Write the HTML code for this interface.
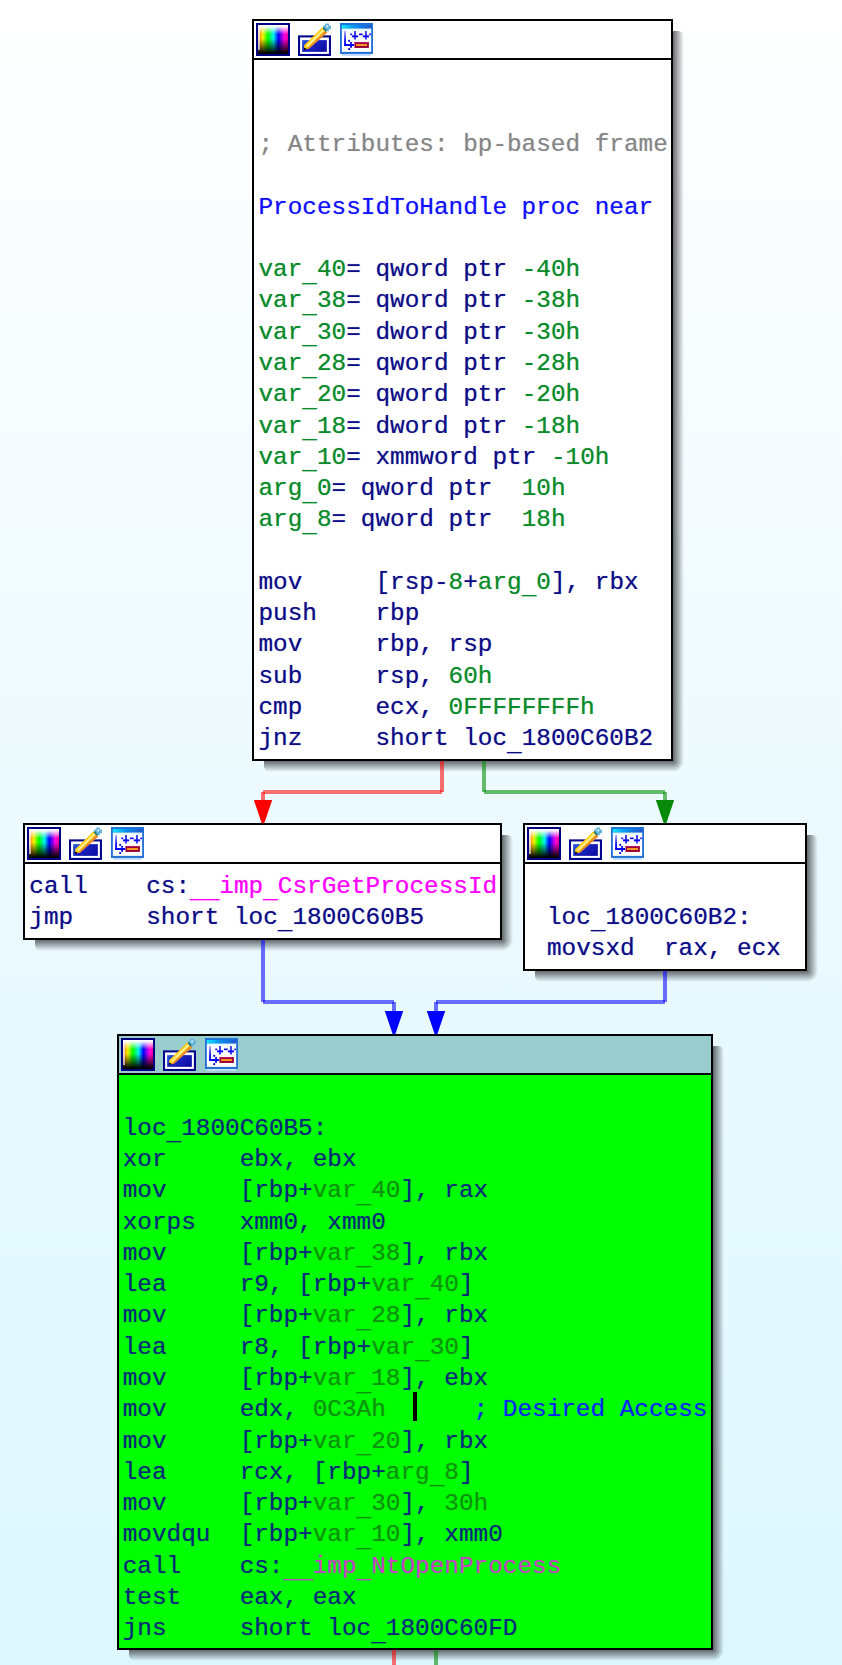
<!DOCTYPE html>
<html><head><meta charset="utf-8"><title>IDA graph</title>
<style>
html,body{margin:0;padding:0}
body{width:842px;height:1665px;overflow:hidden;position:relative;
background:linear-gradient(to bottom,#ffffff 0,#fdfeff 100px,#ecfaff 820px,#ddf7ff 1665px);
font-family:"Liberation Mono",monospace}
.s{position:absolute}
.n{position:absolute;border:2px solid #000;overflow:hidden}
.tb{position:absolute;left:0;top:0;right:0;height:37px;border-bottom:2px solid #000}
.ic{position:absolute;display:block}
.u{position:relative;top:5.5px}
.t{position:absolute;white-space:pre;font-size:24.37px;line-height:31px;height:31px;letter-spacing:0;text-shadow:0 0 1px color-mix(in srgb,currentColor 50%,transparent)}
</style></head>
<body>
<div class="s" style="left:673px;top:31px;width:11px;height:730px;border-top-right-radius:6px;background:linear-gradient(to right,rgba(30,32,34,0.66),rgba(30,32,34,0))"></div>
<div class="s" style="left:264px;top:761px;width:409px;height:11px;border-bottom-left-radius:6px;background:linear-gradient(to bottom,rgba(30,32,34,0.66),rgba(30,32,34,0))"></div>
<div class="s" style="left:673px;top:761px;width:11px;height:11px;background:radial-gradient(circle at 0 0,rgba(30,32,34,0.66) 0,rgba(30,32,34,0) 11px)"></div>
<div class="n" style="left:252px;top:19px;width:417px;height:738px;background:#ffffff">
<div class="tb" style="background:#ffffff"></div>
<svg class="ic" style="left:2px;top:2px" width="34" height="33" viewBox="0 0 34 33">
<defs>
<linearGradient id="hue" x1="0" x2="1" y1="0" y2="0">
<stop offset="0" stop-color="#ffb070"/><stop offset="0.06" stop-color="#ff9a10"/><stop offset="0.16" stop-color="#f2f200"/>
<stop offset="0.33" stop-color="#00ff00"/><stop offset="0.52" stop-color="#00f0f0"/>
<stop offset="0.68" stop-color="#0000ff"/><stop offset="0.88" stop-color="#ff00e0"/><stop offset="1" stop-color="#f000a0"/>
</linearGradient>
<linearGradient id="vw" x1="0" x2="0" y1="0" y2="1">
<stop offset="0" stop-color="#fff" stop-opacity="1"/><stop offset="0.06" stop-color="#fff" stop-opacity="0.92"/>
<stop offset="0.32" stop-color="#fff" stop-opacity="0"/>
<stop offset="0.47" stop-color="#000" stop-opacity="0"/><stop offset="0.95" stop-color="#000" stop-opacity="0.95"/>
<stop offset="1" stop-color="#000" stop-opacity="1"/>
</linearGradient>
</defs>
<rect x="0" y="0" width="34" height="33" fill="#000080"/>
<rect x="2" y="2" width="30" height="29" fill="url(#hue)"/>
<rect x="2" y="2" width="30" height="29" fill="url(#vw)"/>
<rect x="2" y="2" width="2" height="25" fill="#fff" fill-opacity="0.6"/>
</svg>
<svg class="ic" style="left:44px;top:2px" width="34" height="33" viewBox="0 0 16.5 16">
<defs>
<linearGradient id="bl" x1="0" x2="1" y1="0" y2="0.6">
<stop offset="0" stop-color="#2a5ce0"/><stop offset="0.5" stop-color="#1a22c0"/><stop offset="1" stop-color="#1010a8"/>
</linearGradient>
</defs>
<rect x="0" y="6" width="16" height="10" fill="#00008c"/>
<rect x="1" y="7" width="14" height="8" fill="#fff"/>
<rect x="2" y="8.3" width="12" height="5.7" fill="url(#bl)"/>
<polygon points="3,12.8 3.2,10.8 11.9,2.2 14.3,4.6 5.4,12.5" fill="#e88a28"/>
<polygon points="3,12.6 3.1,10.7 11.8,2.2 13.3,3.7 4.5,12.2" fill="#ffd21c"/>
<polygon points="4.0,11.0 12.3,2.9 12.9,3.5 4.6,11.6" fill="#fff6b8" fill-opacity="0.85"/>
<rect x="2.9" y="12.1" width="0.9" height="0.9" fill="#000"/>
<polygon points="12.2,2.4 13.2,1.4 14,4.2 14.2,4.4" fill="#107060"/>
<path d="M13.2 0.2h1.8v1h1v1.8h-1v1h-1.8v-1h-1v-1.8h1z" fill="#62b4dc"/>
<rect x="13.7" y="1.2" width="0.9" height="0.9" fill="#e8f8ff"/>
<polygon points="12.0,2.5 12.6,1.9 13.1,2.9 13.9,3.4 13.4,4.1 12.8,3.6" fill="#106858" fill-opacity="0.9"/>
</svg>
<svg class="ic" style="left:86px;top:2px" width="33" height="33" viewBox="0 0 16 16">
<defs>
<linearGradient id="tb" x1="0" x2="1" y1="0" y2="0">
<stop offset="0" stop-color="#10e8ff"/><stop offset="0.45" stop-color="#0a90f0"/><stop offset="1" stop-color="#2058d0"/>
</linearGradient>
<linearGradient id="vl" x1="0" x2="0" y1="0" y2="1">
<stop offset="0" stop-color="#b0a8ff"/><stop offset="0.6" stop-color="#1818f0"/><stop offset="1" stop-color="#0000ff"/>
</linearGradient>
</defs>
<rect x="1" y="15" width="14" height="1" fill="#c4dcff"/>
<rect x="0" y="0" width="16" height="15" fill="#2470d4"/>
<rect x="0.9" y="0.9" width="14.2" height="1.8" fill="url(#tb)"/>
<rect x="0" y="0" width="16" height="0.9" fill="#1c74d8"/>
<rect x="0.9" y="2.8" width="14.2" height="11.2" fill="#fff"/>
<rect x="0.9" y="2.8" width="14.2" height="1" fill="#e4fbff"/>
<rect x="2" y="3.9" width="0.9" height="7.2" fill="url(#vl)"/>
<rect x="2" y="10.2" width="4.8" height="0.95" fill="#0000ff"/>
<g fill="#0000e0">
<rect x="4" y="8.2" width="0.9" height="0.9"/><rect x="4.9" y="9.2" width="0.9" height="0.9"/>
<rect x="5.8" y="10.2" width="0.9" height="0.9"/><rect x="4.9" y="11.1" width="0.9" height="0.9"/>
<rect x="4" y="12.2" width="0.9" height="0.9"/>
</g>
<g fill="#0808f0">
<rect x="6.8" y="3.9" width="0.95" height="4.1" fill="#3a3af4"/>
<rect x="5.8" y="6.0" width="3" height="0.95"/>
<rect x="5" y="5.1" width="0.9" height="0.8"/>
<rect x="9.2" y="5.1" width="1.8" height="0.8"/>
<rect x="12.1" y="3.9" width="0.95" height="4.1" fill="#3a3af4"/>
<rect x="11.1" y="6.0" width="3" height="0.95"/>
<rect x="14.2" y="5.1" width="0.8" height="0.8"/>
</g>
<rect x="7" y="9.2" width="7" height="2.9" fill="#980038"/>
<rect x="7" y="9.2" width="7" height="0.5" fill="#c01868"/>
<rect x="7.8" y="10.2" width="5.3" height="0.95" fill="#ff9820"/>
</svg>
</div>
<div class="t" style="left:258.50px;top:129.14px"><span style="color:#868686">; Attributes: bp-based frame</span></div>
<div class="t" style="left:258.50px;top:191.68px"><span style="color:#1010ff">ProcessIdToHandle proc near</span></div>
<div class="t" style="left:258.50px;top:254.22px"><span style="color:#0a8a2a">var<span class="u">_</span>40</span><span style="color:#0c0c86">= qword ptr </span><span style="color:#0a8a2a">-40h</span></div>
<div class="t" style="left:258.50px;top:285.49px"><span style="color:#0a8a2a">var<span class="u">_</span>38</span><span style="color:#0c0c86">= qword ptr </span><span style="color:#0a8a2a">-38h</span></div>
<div class="t" style="left:258.50px;top:316.76px"><span style="color:#0a8a2a">var<span class="u">_</span>30</span><span style="color:#0c0c86">= dword ptr </span><span style="color:#0a8a2a">-30h</span></div>
<div class="t" style="left:258.50px;top:348.03px"><span style="color:#0a8a2a">var<span class="u">_</span>28</span><span style="color:#0c0c86">= qword ptr </span><span style="color:#0a8a2a">-28h</span></div>
<div class="t" style="left:258.50px;top:379.30px"><span style="color:#0a8a2a">var<span class="u">_</span>20</span><span style="color:#0c0c86">= qword ptr </span><span style="color:#0a8a2a">-20h</span></div>
<div class="t" style="left:258.50px;top:410.57px"><span style="color:#0a8a2a">var<span class="u">_</span>18</span><span style="color:#0c0c86">= dword ptr </span><span style="color:#0a8a2a">-18h</span></div>
<div class="t" style="left:258.50px;top:441.84px"><span style="color:#0a8a2a">var<span class="u">_</span>10</span><span style="color:#0c0c86">= xmmword ptr </span><span style="color:#0a8a2a">-10h</span></div>
<div class="t" style="left:258.50px;top:473.11px"><span style="color:#0a8a2a">arg<span class="u">_</span>0</span><span style="color:#0c0c86">= qword ptr </span><span style="color:#0a8a2a"> 10h</span></div>
<div class="t" style="left:258.50px;top:504.38px"><span style="color:#0a8a2a">arg<span class="u">_</span>8</span><span style="color:#0c0c86">= qword ptr </span><span style="color:#0a8a2a"> 18h</span></div>
<div class="t" style="left:258.50px;top:566.92px"><span style="color:#0c0c86">mov     [rsp-</span><span style="color:#0a8a2a">8</span><span style="color:#0c0c86">+</span><span style="color:#0a8a2a">arg<span class="u">_</span>0</span><span style="color:#0c0c86">], rbx</span></div>
<div class="t" style="left:258.50px;top:598.19px"><span style="color:#0c0c86">push    rbp</span></div>
<div class="t" style="left:258.50px;top:629.46px"><span style="color:#0c0c86">mov     rbp, rsp</span></div>
<div class="t" style="left:258.50px;top:660.73px"><span style="color:#0c0c86">sub     rsp, </span><span style="color:#0a8a2a">60h</span></div>
<div class="t" style="left:258.50px;top:692.00px"><span style="color:#0c0c86">cmp     ecx, </span><span style="color:#0a8a2a">0FFFFFFFFh</span></div>
<div class="t" style="left:258.50px;top:723.27px"><span style="color:#0c0c86">jnz     short loc<span class="u">_</span>1800C60B2</span></div>

<div class="s" style="left:502px;top:835px;width:11px;height:105px;border-top-right-radius:6px;background:linear-gradient(to right,rgba(30,32,34,0.66),rgba(30,32,34,0))"></div>
<div class="s" style="left:35px;top:940px;width:467px;height:11px;border-bottom-left-radius:6px;background:linear-gradient(to bottom,rgba(30,32,34,0.66),rgba(30,32,34,0))"></div>
<div class="s" style="left:502px;top:940px;width:11px;height:11px;background:radial-gradient(circle at 0 0,rgba(30,32,34,0.66) 0,rgba(30,32,34,0) 11px)"></div>
<div class="n" style="left:23px;top:823px;width:475px;height:113px;background:#ffffff">
<div class="tb" style="background:#ffffff"></div>
<svg class="ic" style="left:2px;top:2px" width="34" height="33" viewBox="0 0 34 33">
<defs>
<linearGradient id="hue" x1="0" x2="1" y1="0" y2="0">
<stop offset="0" stop-color="#ffb070"/><stop offset="0.06" stop-color="#ff9a10"/><stop offset="0.16" stop-color="#f2f200"/>
<stop offset="0.33" stop-color="#00ff00"/><stop offset="0.52" stop-color="#00f0f0"/>
<stop offset="0.68" stop-color="#0000ff"/><stop offset="0.88" stop-color="#ff00e0"/><stop offset="1" stop-color="#f000a0"/>
</linearGradient>
<linearGradient id="vw" x1="0" x2="0" y1="0" y2="1">
<stop offset="0" stop-color="#fff" stop-opacity="1"/><stop offset="0.06" stop-color="#fff" stop-opacity="0.92"/>
<stop offset="0.32" stop-color="#fff" stop-opacity="0"/>
<stop offset="0.47" stop-color="#000" stop-opacity="0"/><stop offset="0.95" stop-color="#000" stop-opacity="0.95"/>
<stop offset="1" stop-color="#000" stop-opacity="1"/>
</linearGradient>
</defs>
<rect x="0" y="0" width="34" height="33" fill="#000080"/>
<rect x="2" y="2" width="30" height="29" fill="url(#hue)"/>
<rect x="2" y="2" width="30" height="29" fill="url(#vw)"/>
<rect x="2" y="2" width="2" height="25" fill="#fff" fill-opacity="0.6"/>
</svg>
<svg class="ic" style="left:44px;top:2px" width="34" height="33" viewBox="0 0 16.5 16">
<defs>
<linearGradient id="bl" x1="0" x2="1" y1="0" y2="0.6">
<stop offset="0" stop-color="#2a5ce0"/><stop offset="0.5" stop-color="#1a22c0"/><stop offset="1" stop-color="#1010a8"/>
</linearGradient>
</defs>
<rect x="0" y="6" width="16" height="10" fill="#00008c"/>
<rect x="1" y="7" width="14" height="8" fill="#fff"/>
<rect x="2" y="8.3" width="12" height="5.7" fill="url(#bl)"/>
<polygon points="3,12.8 3.2,10.8 11.9,2.2 14.3,4.6 5.4,12.5" fill="#e88a28"/>
<polygon points="3,12.6 3.1,10.7 11.8,2.2 13.3,3.7 4.5,12.2" fill="#ffd21c"/>
<polygon points="4.0,11.0 12.3,2.9 12.9,3.5 4.6,11.6" fill="#fff6b8" fill-opacity="0.85"/>
<rect x="2.9" y="12.1" width="0.9" height="0.9" fill="#000"/>
<polygon points="12.2,2.4 13.2,1.4 14,4.2 14.2,4.4" fill="#107060"/>
<path d="M13.2 0.2h1.8v1h1v1.8h-1v1h-1.8v-1h-1v-1.8h1z" fill="#62b4dc"/>
<rect x="13.7" y="1.2" width="0.9" height="0.9" fill="#e8f8ff"/>
<polygon points="12.0,2.5 12.6,1.9 13.1,2.9 13.9,3.4 13.4,4.1 12.8,3.6" fill="#106858" fill-opacity="0.9"/>
</svg>
<svg class="ic" style="left:86px;top:2px" width="33" height="33" viewBox="0 0 16 16">
<defs>
<linearGradient id="tb" x1="0" x2="1" y1="0" y2="0">
<stop offset="0" stop-color="#10e8ff"/><stop offset="0.45" stop-color="#0a90f0"/><stop offset="1" stop-color="#2058d0"/>
</linearGradient>
<linearGradient id="vl" x1="0" x2="0" y1="0" y2="1">
<stop offset="0" stop-color="#b0a8ff"/><stop offset="0.6" stop-color="#1818f0"/><stop offset="1" stop-color="#0000ff"/>
</linearGradient>
</defs>
<rect x="1" y="15" width="14" height="1" fill="#c4dcff"/>
<rect x="0" y="0" width="16" height="15" fill="#2470d4"/>
<rect x="0.9" y="0.9" width="14.2" height="1.8" fill="url(#tb)"/>
<rect x="0" y="0" width="16" height="0.9" fill="#1c74d8"/>
<rect x="0.9" y="2.8" width="14.2" height="11.2" fill="#fff"/>
<rect x="0.9" y="2.8" width="14.2" height="1" fill="#e4fbff"/>
<rect x="2" y="3.9" width="0.9" height="7.2" fill="url(#vl)"/>
<rect x="2" y="10.2" width="4.8" height="0.95" fill="#0000ff"/>
<g fill="#0000e0">
<rect x="4" y="8.2" width="0.9" height="0.9"/><rect x="4.9" y="9.2" width="0.9" height="0.9"/>
<rect x="5.8" y="10.2" width="0.9" height="0.9"/><rect x="4.9" y="11.1" width="0.9" height="0.9"/>
<rect x="4" y="12.2" width="0.9" height="0.9"/>
</g>
<g fill="#0808f0">
<rect x="6.8" y="3.9" width="0.95" height="4.1" fill="#3a3af4"/>
<rect x="5.8" y="6.0" width="3" height="0.95"/>
<rect x="5" y="5.1" width="0.9" height="0.8"/>
<rect x="9.2" y="5.1" width="1.8" height="0.8"/>
<rect x="12.1" y="3.9" width="0.95" height="4.1" fill="#3a3af4"/>
<rect x="11.1" y="6.0" width="3" height="0.95"/>
<rect x="14.2" y="5.1" width="0.8" height="0.8"/>
</g>
<rect x="7" y="9.2" width="7" height="2.9" fill="#980038"/>
<rect x="7" y="9.2" width="7" height="0.5" fill="#c01868"/>
<rect x="7.8" y="10.2" width="5.3" height="0.95" fill="#ff9820"/>
</svg>
</div>
<div class="t" style="left:29.30px;top:870.60px"><span style="color:#0c0c86">call    cs:</span><span style="color:#ff00ff"><span class="u">_</span><span class="u">_</span>imp<span class="u">_</span>CsrGetProcessId</span></div>
<div class="t" style="left:29.30px;top:901.87px"><span style="color:#0c0c86">jmp     short loc<span class="u">_</span>1800C60B5</span></div>

<div class="s" style="left:807px;top:835px;width:11px;height:136px;border-top-right-radius:6px;background:linear-gradient(to right,rgba(30,32,34,0.66),rgba(30,32,34,0))"></div>
<div class="s" style="left:535px;top:971px;width:272px;height:11px;border-bottom-left-radius:6px;background:linear-gradient(to bottom,rgba(30,32,34,0.66),rgba(30,32,34,0))"></div>
<div class="s" style="left:807px;top:971px;width:11px;height:11px;background:radial-gradient(circle at 0 0,rgba(30,32,34,0.66) 0,rgba(30,32,34,0) 11px)"></div>
<div class="n" style="left:523px;top:823px;width:280px;height:144px;background:#ffffff">
<div class="tb" style="background:#ffffff"></div>
<svg class="ic" style="left:2px;top:2px" width="34" height="33" viewBox="0 0 34 33">
<defs>
<linearGradient id="hue" x1="0" x2="1" y1="0" y2="0">
<stop offset="0" stop-color="#ffb070"/><stop offset="0.06" stop-color="#ff9a10"/><stop offset="0.16" stop-color="#f2f200"/>
<stop offset="0.33" stop-color="#00ff00"/><stop offset="0.52" stop-color="#00f0f0"/>
<stop offset="0.68" stop-color="#0000ff"/><stop offset="0.88" stop-color="#ff00e0"/><stop offset="1" stop-color="#f000a0"/>
</linearGradient>
<linearGradient id="vw" x1="0" x2="0" y1="0" y2="1">
<stop offset="0" stop-color="#fff" stop-opacity="1"/><stop offset="0.06" stop-color="#fff" stop-opacity="0.92"/>
<stop offset="0.32" stop-color="#fff" stop-opacity="0"/>
<stop offset="0.47" stop-color="#000" stop-opacity="0"/><stop offset="0.95" stop-color="#000" stop-opacity="0.95"/>
<stop offset="1" stop-color="#000" stop-opacity="1"/>
</linearGradient>
</defs>
<rect x="0" y="0" width="34" height="33" fill="#000080"/>
<rect x="2" y="2" width="30" height="29" fill="url(#hue)"/>
<rect x="2" y="2" width="30" height="29" fill="url(#vw)"/>
<rect x="2" y="2" width="2" height="25" fill="#fff" fill-opacity="0.6"/>
</svg>
<svg class="ic" style="left:44px;top:2px" width="34" height="33" viewBox="0 0 16.5 16">
<defs>
<linearGradient id="bl" x1="0" x2="1" y1="0" y2="0.6">
<stop offset="0" stop-color="#2a5ce0"/><stop offset="0.5" stop-color="#1a22c0"/><stop offset="1" stop-color="#1010a8"/>
</linearGradient>
</defs>
<rect x="0" y="6" width="16" height="10" fill="#00008c"/>
<rect x="1" y="7" width="14" height="8" fill="#fff"/>
<rect x="2" y="8.3" width="12" height="5.7" fill="url(#bl)"/>
<polygon points="3,12.8 3.2,10.8 11.9,2.2 14.3,4.6 5.4,12.5" fill="#e88a28"/>
<polygon points="3,12.6 3.1,10.7 11.8,2.2 13.3,3.7 4.5,12.2" fill="#ffd21c"/>
<polygon points="4.0,11.0 12.3,2.9 12.9,3.5 4.6,11.6" fill="#fff6b8" fill-opacity="0.85"/>
<rect x="2.9" y="12.1" width="0.9" height="0.9" fill="#000"/>
<polygon points="12.2,2.4 13.2,1.4 14,4.2 14.2,4.4" fill="#107060"/>
<path d="M13.2 0.2h1.8v1h1v1.8h-1v1h-1.8v-1h-1v-1.8h1z" fill="#62b4dc"/>
<rect x="13.7" y="1.2" width="0.9" height="0.9" fill="#e8f8ff"/>
<polygon points="12.0,2.5 12.6,1.9 13.1,2.9 13.9,3.4 13.4,4.1 12.8,3.6" fill="#106858" fill-opacity="0.9"/>
</svg>
<svg class="ic" style="left:86px;top:2px" width="33" height="33" viewBox="0 0 16 16">
<defs>
<linearGradient id="tb" x1="0" x2="1" y1="0" y2="0">
<stop offset="0" stop-color="#10e8ff"/><stop offset="0.45" stop-color="#0a90f0"/><stop offset="1" stop-color="#2058d0"/>
</linearGradient>
<linearGradient id="vl" x1="0" x2="0" y1="0" y2="1">
<stop offset="0" stop-color="#b0a8ff"/><stop offset="0.6" stop-color="#1818f0"/><stop offset="1" stop-color="#0000ff"/>
</linearGradient>
</defs>
<rect x="1" y="15" width="14" height="1" fill="#c4dcff"/>
<rect x="0" y="0" width="16" height="15" fill="#2470d4"/>
<rect x="0.9" y="0.9" width="14.2" height="1.8" fill="url(#tb)"/>
<rect x="0" y="0" width="16" height="0.9" fill="#1c74d8"/>
<rect x="0.9" y="2.8" width="14.2" height="11.2" fill="#fff"/>
<rect x="0.9" y="2.8" width="14.2" height="1" fill="#e4fbff"/>
<rect x="2" y="3.9" width="0.9" height="7.2" fill="url(#vl)"/>
<rect x="2" y="10.2" width="4.8" height="0.95" fill="#0000ff"/>
<g fill="#0000e0">
<rect x="4" y="8.2" width="0.9" height="0.9"/><rect x="4.9" y="9.2" width="0.9" height="0.9"/>
<rect x="5.8" y="10.2" width="0.9" height="0.9"/><rect x="4.9" y="11.1" width="0.9" height="0.9"/>
<rect x="4" y="12.2" width="0.9" height="0.9"/>
</g>
<g fill="#0808f0">
<rect x="6.8" y="3.9" width="0.95" height="4.1" fill="#3a3af4"/>
<rect x="5.8" y="6.0" width="3" height="0.95"/>
<rect x="5" y="5.1" width="0.9" height="0.8"/>
<rect x="9.2" y="5.1" width="1.8" height="0.8"/>
<rect x="12.1" y="3.9" width="0.95" height="4.1" fill="#3a3af4"/>
<rect x="11.1" y="6.0" width="3" height="0.95"/>
<rect x="14.2" y="5.1" width="0.8" height="0.8"/>
</g>
<rect x="7" y="9.2" width="7" height="2.9" fill="#980038"/>
<rect x="7" y="9.2" width="7" height="0.5" fill="#c01868"/>
<rect x="7.8" y="10.2" width="5.3" height="0.95" fill="#ff9820"/>
</svg>
</div>
<div class="t" style="left:547.00px;top:901.87px"><span style="color:#0c0c86">loc<span class="u">_</span>1800C60B2:</span></div>
<div class="t" style="left:547.00px;top:933.14px"><span style="color:#0c0c86">movsxd  rax, ecx</span></div>

<div class="s" style="left:713px;top:1046px;width:11px;height:604px;border-top-right-radius:6px;background:linear-gradient(to right,rgba(30,32,34,0.66),rgba(30,32,34,0))"></div>
<div class="s" style="left:129px;top:1650px;width:584px;height:11px;border-bottom-left-radius:6px;background:linear-gradient(to bottom,rgba(30,32,34,0.66),rgba(30,32,34,0))"></div>
<div class="s" style="left:713px;top:1650px;width:11px;height:11px;background:radial-gradient(circle at 0 0,rgba(30,32,34,0.66) 0,rgba(30,32,34,0) 11px)"></div>
<div class="n" style="left:117px;top:1034px;width:592px;height:612px;background:#00ff00">
<div class="tb" style="background:#99cccc"></div>
<svg class="ic" style="left:2px;top:2px" width="34" height="33" viewBox="0 0 34 33">
<defs>
<linearGradient id="hue" x1="0" x2="1" y1="0" y2="0">
<stop offset="0" stop-color="#ffb070"/><stop offset="0.06" stop-color="#ff9a10"/><stop offset="0.16" stop-color="#f2f200"/>
<stop offset="0.33" stop-color="#00ff00"/><stop offset="0.52" stop-color="#00f0f0"/>
<stop offset="0.68" stop-color="#0000ff"/><stop offset="0.88" stop-color="#ff00e0"/><stop offset="1" stop-color="#f000a0"/>
</linearGradient>
<linearGradient id="vw" x1="0" x2="0" y1="0" y2="1">
<stop offset="0" stop-color="#fff" stop-opacity="1"/><stop offset="0.06" stop-color="#fff" stop-opacity="0.92"/>
<stop offset="0.32" stop-color="#fff" stop-opacity="0"/>
<stop offset="0.47" stop-color="#000" stop-opacity="0"/><stop offset="0.95" stop-color="#000" stop-opacity="0.95"/>
<stop offset="1" stop-color="#000" stop-opacity="1"/>
</linearGradient>
</defs>
<rect x="0" y="0" width="34" height="33" fill="#000080"/>
<rect x="2" y="2" width="30" height="29" fill="url(#hue)"/>
<rect x="2" y="2" width="30" height="29" fill="url(#vw)"/>
<rect x="2" y="2" width="2" height="25" fill="#fff" fill-opacity="0.6"/>
</svg>
<svg class="ic" style="left:44px;top:2px" width="34" height="33" viewBox="0 0 16.5 16">
<defs>
<linearGradient id="bl" x1="0" x2="1" y1="0" y2="0.6">
<stop offset="0" stop-color="#2a5ce0"/><stop offset="0.5" stop-color="#1a22c0"/><stop offset="1" stop-color="#1010a8"/>
</linearGradient>
</defs>
<rect x="0" y="6" width="16" height="10" fill="#00008c"/>
<rect x="1" y="7" width="14" height="8" fill="#fff"/>
<rect x="2" y="8.3" width="12" height="5.7" fill="url(#bl)"/>
<polygon points="3,12.8 3.2,10.8 11.9,2.2 14.3,4.6 5.4,12.5" fill="#e88a28"/>
<polygon points="3,12.6 3.1,10.7 11.8,2.2 13.3,3.7 4.5,12.2" fill="#ffd21c"/>
<polygon points="4.0,11.0 12.3,2.9 12.9,3.5 4.6,11.6" fill="#fff6b8" fill-opacity="0.85"/>
<rect x="2.9" y="12.1" width="0.9" height="0.9" fill="#000"/>
<polygon points="12.2,2.4 13.2,1.4 14,4.2 14.2,4.4" fill="#107060"/>
<path d="M13.2 0.2h1.8v1h1v1.8h-1v1h-1.8v-1h-1v-1.8h1z" fill="#62b4dc"/>
<rect x="13.7" y="1.2" width="0.9" height="0.9" fill="#e8f8ff"/>
<polygon points="12.0,2.5 12.6,1.9 13.1,2.9 13.9,3.4 13.4,4.1 12.8,3.6" fill="#106858" fill-opacity="0.9"/>
</svg>
<svg class="ic" style="left:86px;top:2px" width="33" height="33" viewBox="0 0 16 16">
<defs>
<linearGradient id="tb" x1="0" x2="1" y1="0" y2="0">
<stop offset="0" stop-color="#10e8ff"/><stop offset="0.45" stop-color="#0a90f0"/><stop offset="1" stop-color="#2058d0"/>
</linearGradient>
<linearGradient id="vl" x1="0" x2="0" y1="0" y2="1">
<stop offset="0" stop-color="#b0a8ff"/><stop offset="0.6" stop-color="#1818f0"/><stop offset="1" stop-color="#0000ff"/>
</linearGradient>
</defs>
<rect x="1" y="15" width="14" height="1" fill="#c4dcff"/>
<rect x="0" y="0" width="16" height="15" fill="#2470d4"/>
<rect x="0.9" y="0.9" width="14.2" height="1.8" fill="url(#tb)"/>
<rect x="0" y="0" width="16" height="0.9" fill="#1c74d8"/>
<rect x="0.9" y="2.8" width="14.2" height="11.2" fill="#fff"/>
<rect x="0.9" y="2.8" width="14.2" height="1" fill="#e4fbff"/>
<rect x="2" y="3.9" width="0.9" height="7.2" fill="url(#vl)"/>
<rect x="2" y="10.2" width="4.8" height="0.95" fill="#0000ff"/>
<g fill="#0000e0">
<rect x="4" y="8.2" width="0.9" height="0.9"/><rect x="4.9" y="9.2" width="0.9" height="0.9"/>
<rect x="5.8" y="10.2" width="0.9" height="0.9"/><rect x="4.9" y="11.1" width="0.9" height="0.9"/>
<rect x="4" y="12.2" width="0.9" height="0.9"/>
</g>
<g fill="#0808f0">
<rect x="6.8" y="3.9" width="0.95" height="4.1" fill="#3a3af4"/>
<rect x="5.8" y="6.0" width="3" height="0.95"/>
<rect x="5" y="5.1" width="0.9" height="0.8"/>
<rect x="9.2" y="5.1" width="1.8" height="0.8"/>
<rect x="12.1" y="3.9" width="0.95" height="4.1" fill="#3a3af4"/>
<rect x="11.1" y="6.0" width="3" height="0.95"/>
<rect x="14.2" y="5.1" width="0.8" height="0.8"/>
</g>
<rect x="7" y="9.2" width="7" height="2.9" fill="#980038"/>
<rect x="7" y="9.2" width="7" height="0.5" fill="#c01868"/>
<rect x="7.8" y="10.2" width="5.3" height="0.95" fill="#ff9820"/>
</svg>
</div>
<div class="t" style="left:122.70px;top:1112.87px"><span style="color:#002c78">loc<span class="u">_</span>1800C60B5:</span></div>
<div class="t" style="left:122.70px;top:1144.14px"><span style="color:#002c78">xor     ebx, ebx</span></div>
<div class="t" style="left:122.70px;top:1175.41px"><span style="color:#002c78">mov     [rbp+</span><span style="color:#0d930d">var<span class="u">_</span>40</span><span style="color:#002c78">], rax</span></div>
<div class="t" style="left:122.70px;top:1206.68px"><span style="color:#002c78">xorps   xmm0, xmm0</span></div>
<div class="t" style="left:122.70px;top:1237.95px"><span style="color:#002c78">mov     [rbp+</span><span style="color:#0d930d">var<span class="u">_</span>38</span><span style="color:#002c78">], rbx</span></div>
<div class="t" style="left:122.70px;top:1269.22px"><span style="color:#002c78">lea     r9, [rbp+</span><span style="color:#0d930d">var<span class="u">_</span>40</span><span style="color:#002c78">]</span></div>
<div class="t" style="left:122.70px;top:1300.49px"><span style="color:#002c78">mov     [rbp+</span><span style="color:#0d930d">var<span class="u">_</span>28</span><span style="color:#002c78">], rbx</span></div>
<div class="t" style="left:122.70px;top:1331.76px"><span style="color:#002c78">lea     r8, [rbp+</span><span style="color:#0d930d">var<span class="u">_</span>30</span><span style="color:#002c78">]</span></div>
<div class="t" style="left:122.70px;top:1363.03px"><span style="color:#002c78">mov     [rbp+</span><span style="color:#0d930d">var<span class="u">_</span>18</span><span style="color:#002c78">], ebx</span></div>
<div class="t" style="left:122.70px;top:1394.30px"><span style="color:#002c78">mov     edx, </span><span style="color:#0d930d">0C3Ah</span><span style="color:#002c78">      </span><span style="color:#0028f0">; Desired Access</span></div>
<div class="t" style="left:122.70px;top:1425.57px"><span style="color:#002c78">mov     [rbp+</span><span style="color:#0d930d">var<span class="u">_</span>20</span><span style="color:#002c78">], rbx</span></div>
<div class="t" style="left:122.70px;top:1456.84px"><span style="color:#002c78">lea     rcx, [rbp+</span><span style="color:#0d930d">arg<span class="u">_</span>8</span><span style="color:#002c78">]</span></div>
<div class="t" style="left:122.70px;top:1488.11px"><span style="color:#002c78">mov     [rbp+</span><span style="color:#0d930d">var<span class="u">_</span>30</span><span style="color:#002c78">], </span><span style="color:#0d930d">30h</span></div>
<div class="t" style="left:122.70px;top:1519.38px"><span style="color:#002c78">movdqu  [rbp+</span><span style="color:#0d930d">var<span class="u">_</span>10</span><span style="color:#002c78">], xmm0</span></div>
<div class="t" style="left:122.70px;top:1550.65px"><span style="color:#002c78">call    cs:</span><span style="color:#c244c2"><span class="u">_</span><span class="u">_</span>imp<span class="u">_</span>NtOpenProcess</span></div>
<div class="t" style="left:122.70px;top:1581.92px"><span style="color:#002c78">test    eax, eax</span></div>
<div class="t" style="left:122.70px;top:1613.19px"><span style="color:#002c78">jns     short loc<span class="u">_</span>1800C60FD</span></div>
<div class="s" style="left:412.5px;top:1392px;width:4.5px;height:29px;background:#000"></div>
<div class="s" style="left:440px;top:761px;width:4px;height:31px;background:rgba(255,0,0,0.56)"></div>
<div class="s" style="left:262.5px;top:790px;width:179.5px;height:4px;background:rgba(255,0,0,0.56)"></div>
<div class="s" style="left:260.5px;top:792px;width:4px;height:8.200000000000045px;background:rgba(255,0,0,0.56)"></div>
<svg class="s" style="left:250.5px;top:799.2px" width="24" height="25.199999999999932" viewBox="250.5 799.2 24 25.199999999999932"><polygon points="253.3,800.2 271.7,800.2 263.8,823.4 261.2,823.4" fill="#ff0000"/></svg>
<div class="s" style="left:482px;top:761px;width:4px;height:31px;background:rgba(0,140,0,0.58)"></div>
<div class="s" style="left:484px;top:790px;width:181px;height:4px;background:rgba(0,140,0,0.58)"></div>
<div class="s" style="left:663px;top:792px;width:4px;height:8.200000000000045px;background:rgba(0,140,0,0.58)"></div>
<svg class="s" style="left:652.8px;top:799.2px" width="24" height="25.199999999999932" viewBox="652.8 799.2 24 25.199999999999932"><polygon points="655.5999999999999,800.2 674.0,800.2 666.0999999999999,823.4 663.5,823.4" fill="#078a07"/></svg>
<div class="s" style="left:260.5px;top:940px;width:4px;height:62px;background:rgba(0,0,255,0.56)"></div>
<div class="s" style="left:262.5px;top:1000px;width:131.5px;height:4px;background:rgba(0,0,255,0.56)"></div>
<div class="s" style="left:392px;top:1002px;width:4px;height:9.200000000000045px;background:rgba(0,0,255,0.56)"></div>
<svg class="s" style="left:381.8px;top:1010.2px" width="24" height="25.200000000000045" viewBox="381.8 1010.2 24 25.200000000000045"><polygon points="384.6,1011.2 403.0,1011.2 395.1,1034.4 392.5,1034.4" fill="#0000ff"/></svg>
<div class="s" style="left:663px;top:971px;width:4px;height:31px;background:rgba(0,0,255,0.56)"></div>
<div class="s" style="left:435.8px;top:1000px;width:229.2px;height:4px;background:rgba(0,0,255,0.56)"></div>
<div class="s" style="left:433.8px;top:1002px;width:4px;height:9.200000000000045px;background:rgba(0,0,255,0.56)"></div>
<svg class="s" style="left:423.6px;top:1010.2px" width="24" height="25.200000000000045" viewBox="423.6 1010.2 24 25.200000000000045"><polygon points="426.40000000000003,1011.2 444.8,1011.2 436.90000000000003,1034.4 434.3,1034.4" fill="#0000ff"/></svg>
<div class="s" style="left:392px;top:1650px;width:4px;height:15px;background:rgba(255,0,0,0.56)"></div>
<div class="s" style="left:433.8px;top:1650px;width:4px;height:15px;background:rgba(0,140,0,0.58)"></div>
</body></html>
